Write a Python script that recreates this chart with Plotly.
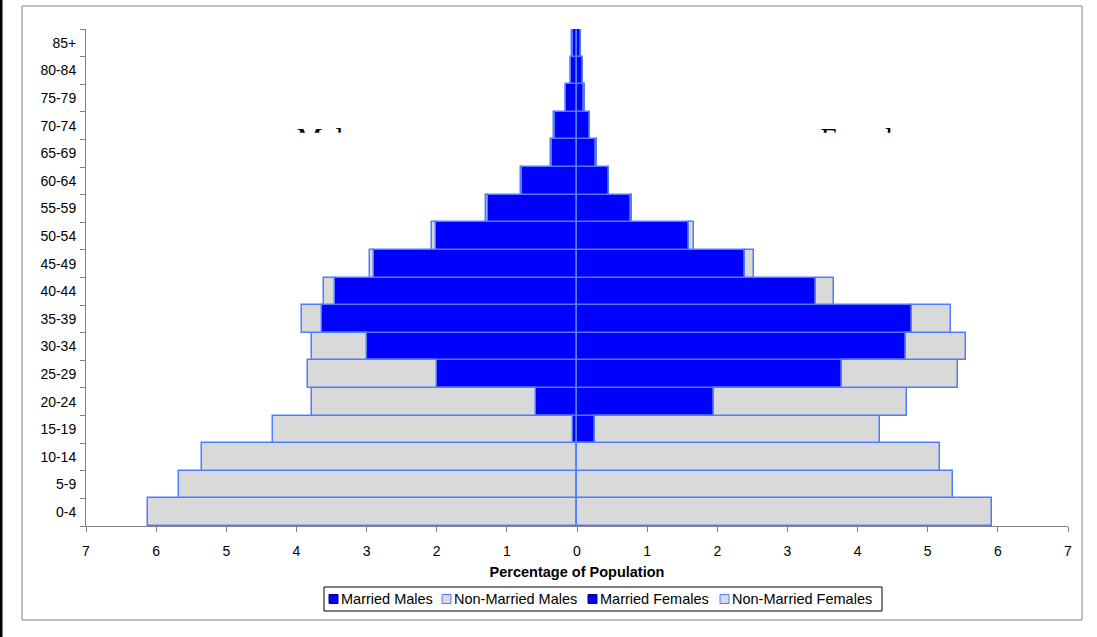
import plotly.graph_objects as go

# Age bands, youngest at the bottom of the pyramid
age_groups = ["0-4", "5-9", "10-14", "15-19", "20-24", "25-29", "30-34", "35-39",
              "40-44", "45-49", "50-54", "55-59", "60-64", "65-69", "70-74",
              "75-79", "80-84", "85+"]

# Percentage of population in each band
married_males = [0.0, 0.0, 0.0, 0.05, 0.59, 2.00, 3.00, 3.64, 3.45, 2.89,
                 2.01, 1.27, 0.79, 0.36, 0.32, 0.15, 0.08, 0.06]
non_married_males = [6.12, 5.67, 5.35, 4.28, 3.19, 1.83, 0.78, 0.28, 0.16, 0.06,
                     0.06, 0.03, 0.01, 0.01, 0.01, 0.01, 0.01, 0.01]
married_females = [0.0, 0.0, 0.0, 0.25, 1.95, 3.78, 4.69, 4.78, 3.41, 2.40,
                   1.59, 0.77, 0.45, 0.27, 0.18, 0.10, 0.08, 0.05]
non_married_females = [5.91, 5.36, 5.17, 4.07, 2.75, 1.65, 0.86, 0.55, 0.25, 0.13,
                       0.08, 0.01, 0.01, 0.01, 0.01, 0.01, 0.005, 0.005]

x_ticks = list(range(-7, 8))
x_tick_text = [str(abs(v)) for v in x_ticks]

MARRIED = "#0000FF"
NON_MARRIED = "#D9D9D9"
EDGE_COLOR = "rgb(80,125,255)"
EDGE = dict(color=EDGE_COLOR, width=1.5)
FONT = "Liberation Sans, Arial, sans-serif"
TICK_SIZE = 14
TEXT_SIZE = 14.5

W, H = 1097, 637
M_L, M_R, M_T, M_B = 86, 29, 29, 111
PLOT_W, PLOT_H = W - M_L - M_R, H - M_T - M_B


def px_x(px):
    """Page pixel column -> paper x."""
    return (px - M_L) / PLOT_W


def px_y(py):
    """Page pixel row -> paper y."""
    return (H - M_B - py) / PLOT_H


fig = go.Figure()

# Side headings sit in their own (clipped) panel underneath the bars
fig.add_trace(go.Scatter(
    x=[-3.49, 4.16], y=[-0.075, -0.075], mode="text",
    text=["Males", "Females"], textposition="middle center",
    textfont=dict(family="Liberation Serif, Times New Roman, serif", size=29, color="black"),
    cliponaxis=True, showlegend=False, hoverinfo="skip",
    xaxis="x", yaxis="y",
))

series = [
    ("Married Males", [-v for v in married_males], MARRIED),
    ("Non-Married Males", [-v for v in non_married_males], NON_MARRIED),
    ("Married Females", married_females, MARRIED),
    ("Non-Married Females", non_married_females, NON_MARRIED),
]
for name, vals, color in series:
    fig.add_trace(go.Bar(
        name=name, y=age_groups, x=vals, orientation="h",
        marker=dict(color=color, line=EDGE), showlegend=False,
        xaxis="x2", yaxis="y2",
    ))

# Compact boxed key under the axis title
shapes = [
    dict(type="rect", xref="paper", yref="paper",
         x0=px_x(22), x1=px_x(1082), y0=px_y(620), y1=px_y(6),
         line=dict(color="#808080", width=1), fillcolor="rgba(0,0,0,0)", layer="below"),
    dict(type="line", xref="paper", yref="paper",
         x0=px_x(1), x1=px_x(1), y0=px_y(H + 5), y1=px_y(-5),
         line=dict(color="black", width=3)),
    dict(type="rect", xref="paper", yref="paper",
         x0=px_x(324), x1=px_x(882), y0=px_y(611), y1=px_y(587),
         line=dict(color="black", width=1), fillcolor="white"),
]
annotations = []
key_left = [329, 442, 588, 720]
key_mid = 599
for (name, _, color), left in zip(series, key_left):
    shapes.append(dict(
        type="rect", xref="paper", yref="paper",
        x0=px_x(left), x1=px_x(left + 9), y0=px_y(key_mid + 4.5), y1=px_y(key_mid - 4.5),
        line=dict(color=EDGE_COLOR if color == NON_MARRIED else "#000080", width=1),
        fillcolor=color,
    ))
    annotations.append(dict(
        text=name, xref="paper", yref="paper", x=px_x(left + 11), y=px_y(key_mid),
        xanchor="left", yanchor="middle", showarrow=False, borderpad=0,
        font=dict(family=FONT, size=TEXT_SIZE, color="black"),
    ))

fig.update_layout(
    width=W, height=H,
    margin=dict(l=M_L, r=M_R, t=M_T, b=M_B),
    paper_bgcolor="white",
    plot_bgcolor="rgba(0,0,0,0)",
    barmode="relative",
    bargap=0,
    showlegend=False,
    font=dict(family=FONT, size=TICK_SIZE, color="black"),
    xaxis=dict(range=[-7, 7], visible=False, domain=[0, 1]),
    yaxis=dict(range=[0, 1], visible=False, domain=[0.791, 1]),
    xaxis2=dict(
        range=[-7, 7], domain=[0, 1], anchor="y2",
        tickmode="array", tickvals=x_ticks, ticktext=x_tick_text,
        ticks="outside", ticklen=5, tickcolor="#808080", ticklabelstandoff=7,
        showline=True, linecolor="#808080", linewidth=1,
        showgrid=False, zeroline=False,
        tickfont=dict(family=FONT, size=TICK_SIZE, color="black"),
        title=dict(text="<b>Percentage of Population</b>", standoff=9,
                   font=dict(family=FONT, size=TEXT_SIZE, color="black")),
    ),
    yaxis2=dict(
        type="category", domain=[0, 1], anchor="x2",
        categoryorder="array", categoryarray=age_groups,
        ticks="outside", ticklen=5, tickcolor="#808080", tickson="boundaries",
        ticklabelstandoff=6,
        showline=True, linecolor="#808080", linewidth=1,
        showgrid=False, zeroline=False,
        tickfont=dict(family=FONT, size=TICK_SIZE, color="black"),
    ),
    shapes=shapes,
    annotations=annotations,
)

fig.write_html("out.html")
